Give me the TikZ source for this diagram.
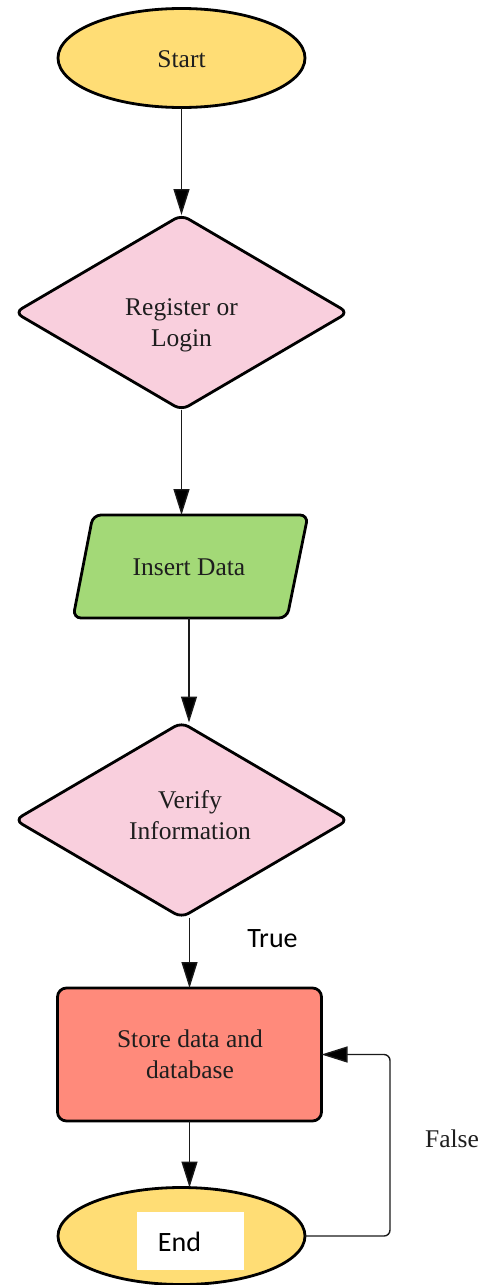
\documentclass[tikz,border=0pt]{standalone}
\usepackage{fontspec}
\setmainfont{Liberation Serif}
\newfontfamily\carlitofont{Carlito}
\usetikzlibrary{shapes.geometric,arrows.meta}
\definecolor{termfill}{HTML}{FFDD75}
\definecolor{decfill}{HTML}{F9CFDD}
\definecolor{iofill}{HTML}{A3D977}
\definecolor{procfill}{HTML}{FF8A7B}
\definecolor{txt}{HTML}{1E1E1E}
\definecolor{lnk}{HTML}{1A1A1A}
\begin{document}
\begin{tikzpicture}[x=1pt,y=-1pt,
  every node/.style={inner sep=0pt,outer sep=0pt,text=txt,font=\fontsize{25.5}{31}\selectfont},
  shp/.style={draw=black,line width=2.8pt},
  term/.style={shp,ellipse,fill=termfill,minimum width=247pt,minimum height=99pt},
  dec/.style={shp,diamond,fill=decfill,minimum width=333pt,minimum height=195pt,rounded corners=8pt},
  proc/.style={shp,rectangle,fill=procfill,rounded corners=9pt,minimum width=264pt,minimum height=133pt},
  lbl/.style={align=center},
  conn/.style={draw=lnk,line width=1.4pt,-{Triangle[length=26pt,width=16pt,fill=black]}},
  sans/.style={font=\carlitofont\fontsize{28}{34}\selectfont,text=black}
]
\useasboundingbox (0,0) rectangle (484,1285);

% Start
\node[term] (start) at (181.5,58) {};
\node[anchor=base] (starttxt) at (181.5,67) {Start};

% Register or Login
\node[dec] (d1) at (181.5,312.5) {};
\node[lbl] (d1txt) at (181.5,325) {Register or\\Login};

% Insert Data (parallelogram)
\path[shp,fill=iofill,rounded corners=8pt]
  (93,515) -- (308,515) -- (287,618) -- (73,618) -- cycle;
\node[minimum width=215pt,minimum height=103pt] (ins) at (189,566.5) {};
\node[anchor=base] (instxt) at (189,575) {Insert Data};

% Verify Information
\node[dec] (d2) at (181.5,820) {};
\node[lbl] (d2txt) at (190,815) {Verify\\Information};

% Store data
\node[proc] (store) at (189.5,1054.5) {};
\node[lbl] (storetxt) at (190,1054) {Store data and\\database};

% End
\node[term,minimum height=97pt] (endn) at (181.5,1236) {};
\node[fill=white,minimum width=107pt,minimum height=58pt] (endbox) at (190.5,1241) {};
\node[sans,anchor=base] (endtxt) at (179.5,1251) {End};

% labels
\node[sans,anchor=base] (truelbl) at (272.5,947) {True};
\node[anchor=base] (falselbl) at (452,1147) {False};

% connectors
\draw[conn] (start.south) -- (d1.north);
\draw[conn] (d1.south) -- (d1.south |- ins.north);
\draw[conn] (ins.south) -- (ins.south |- d2.north);
\draw[conn] (store.north |- d2.south) -- (store.north);
\draw[conn] (store.south) -- (store.south |- endn.north);
\draw[conn,rounded corners=6pt] (endn.east) -- ++(85,0) |- (store.east);
\end{tikzpicture}
\end{document}
